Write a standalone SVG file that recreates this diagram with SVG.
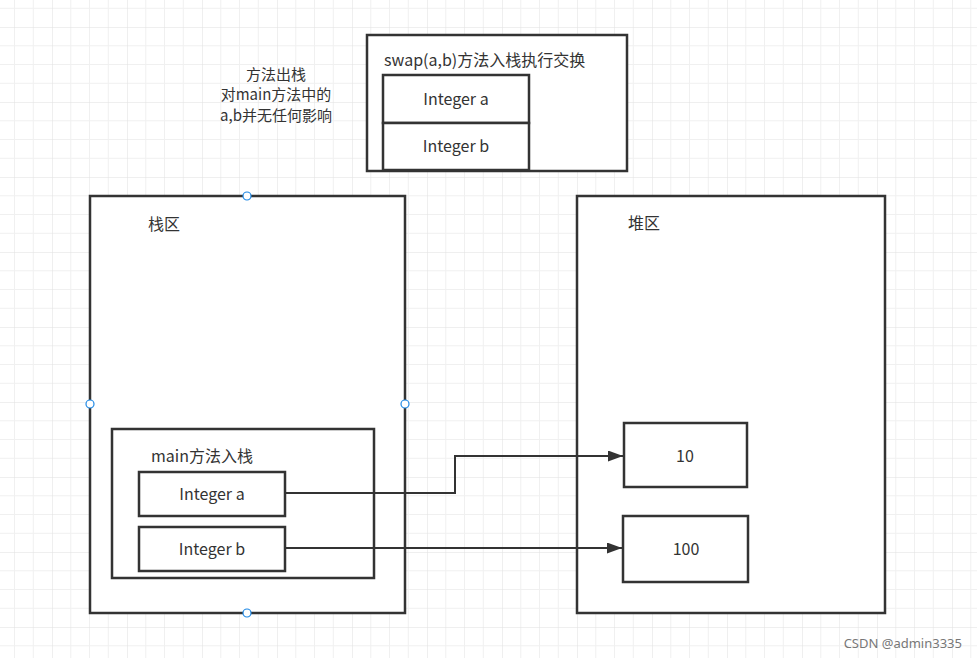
<svg xmlns="http://www.w3.org/2000/svg" width="977" height="658" viewBox="0 0 977 658">
<style>
.box{fill:#fff;stroke:#333;stroke-width:2.5}
.t{font-family:"Microsoft YaHei","Noto Sans CJK SC",sans-serif;font-size:16px;fill:#333}
.n{font-size:15px}
.c{text-anchor:middle}
.ln{fill:none;stroke:#333;stroke-width:2}
.pt{fill:#fff;stroke:#1e88e5;stroke-width:1.2}
</style>
<defs>
<pattern id="g" x="52" y="27" width="75" height="75" patternUnits="userSpaceOnUse">
<path d="M18.75 0V75M37.5 0V75M56.25 0V75M0 18.75H75M0 37.5H75M0 56.25H75" stroke="#f0f0f0" stroke-width="1"/>
<path d="M0 0V75M0 0H75" stroke="#e0e0e0" stroke-width="1"/>
</pattern>
<marker id="a" viewBox="0 0 10 10" refX="10" refY="5" markerWidth="15" markerHeight="11" markerUnits="userSpaceOnUse" orient="auto" preserveAspectRatio="none"><path d="M0 0L10 5L0 10z" fill="#333"/></marker>
</defs>
<rect width="977" height="658" fill="#fff"/>
<rect width="977" height="658" fill="url(#g)"/>
<g id="note"><text class="t n c" x="276" y="80">方法出栈</text><text class="t n c" x="276" y="100">对main方法中的</text><text class="t n c" x="276" y="121">a,b并无任何影响</text></g>
<g id="swap"><rect class="box" x="367" y="35" width="260" height="136"/><text class="t" x="384" y="66">swap(a,b)方法入栈执行交换</text></g>
<g id="swapA"><rect class="box" x="383" y="75" width="146" height="48"/><text class="t c" x="456" y="105">Integer a</text></g>
<g id="swapB"><rect class="box" x="383" y="123" width="146" height="47"/><text class="t c" x="456" y="152">Integer b</text></g>
<g id="stack"><rect class="box" x="90" y="196" width="315" height="417"/><text class="t" x="148" y="230">栈区</text></g>
<g id="heap"><rect class="box" x="577" y="196" width="308" height="417"/><text class="t" x="628" y="229">堆区</text></g>
<g id="main"><rect class="box" x="112" y="429" width="262" height="149"/><text class="t" x="151" y="462">main方法入栈</text></g>
<g id="mainA"><rect class="box" x="139" y="472" width="146" height="44"/><text class="t c" x="212" y="500">Integer a</text></g>
<g id="mainB"><rect class="box" x="139" y="527" width="146" height="44"/><text class="t c" x="212" y="555">Integer b</text></g>
<g id="v10"><rect class="box" x="624" y="423" width="123" height="64"/><text class="t c" x="685" y="462">10</text></g>
<g id="v100"><rect class="box" x="623" y="516" width="125" height="66"/><text class="t c" x="686" y="555">100</text></g>
<g id="connectors">
<path class="ln" d="M285 493H455V456H623" marker-end="url(#a)"/>
<path class="ln" d="M285 548H622" marker-end="url(#a)"/>
</g>
<g id="handles"><circle class="pt" cx="247" cy="196" r="4"/><circle class="pt" cx="90" cy="404" r="4"/><circle class="pt" cx="405" cy="404" r="4"/><circle class="pt" cx="247" cy="613" r="4"/></g>
<text x="962" y="648" text-anchor="end" font-family="Noto Sans, sans-serif" font-size="13" fill="#777">CSDN @admin3335</text>
</svg>
